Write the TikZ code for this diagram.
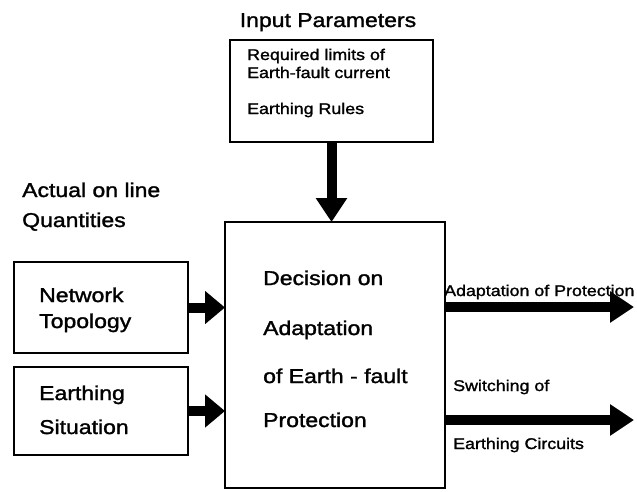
\documentclass[tikz,border=0pt]{standalone}
\usepackage{fontspec}
\setmainfont[FakeStretch=1.15,FakeBold=1.5]{Liberation Sans}
\usetikzlibrary{arrows.meta}
\tikzset{
  box/.style={draw, line width=2.8pt, rectangle, inner sep=0pt, outer sep=0pt},
  bigtxt/.style={anchor=base west, inner sep=0pt, font=\fontsize{20}{24}\selectfont},
  smalltxt/.style={anchor=base west, inner sep=0pt, font=\fontsize{15.5}{18}\selectfont},
  fatarrow/.style={line width=10pt, -{Triangle[length=24pt,width=30pt]}},
  shortarrow/.style={line width=10pt, -{Triangle[length=20pt,width=32pt]}},
}
\begin{document}
\begin{tikzpicture}[x=1pt,y=-1pt]
\useasboundingbox (0,0) rectangle (637,491);
% boxes
\node[box, minimum width=203pt, minimum height=102pt] (top) at (331.5,91) {};
\node[box, minimum width=220pt, minimum height=266pt] (main) at (335,355) {};
\node[box, minimum width=174pt, minimum height=91pt] (net) at (101,307.5) {};
\node[box, minimum width=174pt, minimum height=88pt] (earth) at (101,411) {};
% headings
\node[anchor=base, inner sep=0pt, font=\fontsize{20}{24}\selectfont] (inp) at (328,27) {Input Parameters};
\node[bigtxt] (act1) at (22,197) {Actual on line};
\node[bigtxt] (act2) at (22,227) {Quantities};
% top box text
\node[smalltxt] (req1) at (247,60) {Required limits of};
\node[smalltxt] (req2) at (247,78) {Earth-fault current};
\node[smalltxt] (rules) at (247,114) {Earthing Rules};
% left boxes text
\node[bigtxt] (nt1) at (39,302) {Network};
\node[bigtxt] (nt2) at (39,328) {Topology};
\node[bigtxt] (es1) at (39,400) {Earthing};
\node[bigtxt] (es2) at (39,434) {Situation};
% main box text
\node[bigtxt] (d1) at (263,285) {Decision on};
\node[bigtxt] (d2) at (263,335) {Adaptation};
\node[bigtxt] (d3) at (263,383) {of Earth - fault};
\node[bigtxt] (d4) at (263,427) {Protection};
% outputs
\coordinate (o1) at (634,307);
\coordinate (o2) at (634,420);
\node[smalltxt] (out1) at (444,296) {Adaptation of Protection};
\node[smalltxt] (out2a) at (453,391) {Switching of};
\node[smalltxt] (out2b) at (453,449) {Earthing Circuits};
% arrows
\draw[fatarrow] (top.south) -- (top.south |- main.north);
\draw[shortarrow] (net.east) -- (net.east -| main.west);
\draw[shortarrow] (earth.east) -- (earth.east -| main.west);
\draw[fatarrow] (o1 -| main.east) -- (o1);
\draw[fatarrow] (o2 -| main.east) -- (o2);
\end{tikzpicture}
\end{document}
